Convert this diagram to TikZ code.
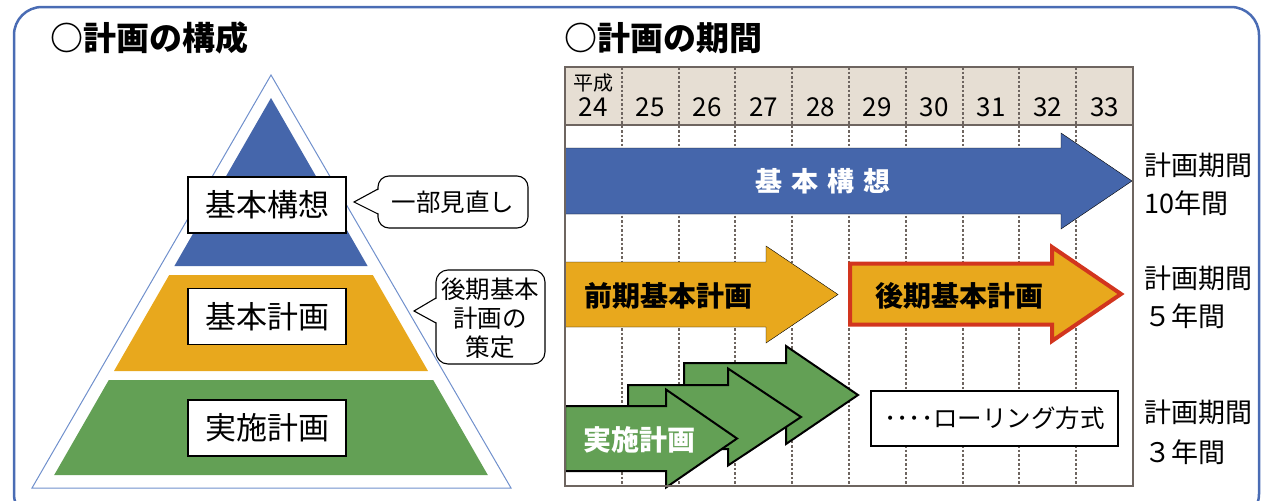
\documentclass[tikz,border=0pt]{standalone}
\usepackage{fontspec}
\setmainfont{Noto Sans CJK JP}
\definecolor{pblue}{HTML}{4566AB}
\definecolor{porange}{HTML}{E8A81D}
\definecolor{pgreen}{HTML}{63A055}
\definecolor{pred}{HTML}{D2351E}
\definecolor{hdr}{HTML}{E6DED3}
\definecolor{gridc}{HTML}{6E6560}
\definecolor{frameblue}{HTML}{4A6CB4}
\definecolor{trib}{HTML}{7090CC}
\newcommand{\blockarrow}[7]{% style, x0, xh, xt, yc, bh, hh
  \draw[#1] (#2,{#5-#6}) -- (#3,{#5-#6}) -- (#3,{#5-#7}) -- (#4,#5) -- (#3,{#5+#7}) -- (#3,{#5+#6}) -- (#2,{#5+#6}) -- cycle;}
\tikzset{
  title/.style={anchor=west, inner sep=0pt, font=\fontsize{33}{38}\selectfont\bfseries},
  planbox/.style={draw=black, line width=1.8pt, fill=white, minimum width=158pt, minimum height=56pt, inner sep=0pt, font=\fontsize{31}{37}\selectfont},
  calltext/.style={inner sep=0pt, align=center, font=\fontsize{24.5}{29}\selectfont},
  callline/.style={draw=black, line width=1.1pt},
  gridline/.style={gridc, line width=2pt, dash pattern=on 2.5pt off 2pt},
  yr/.style={inner sep=0pt, font=\fontsize{26}{30}\selectfont},
  period/.style={anchor=west, inner sep=0pt, font=\fontsize{27}{30}\selectfont},
  arrowlabel/.style={inner sep=0pt, font=\fontsize{28}{32}\selectfont\bfseries},
  greenarrow/.style={fill=pgreen, draw=black, line width=2pt, line join=miter},
}
\begin{document}
\begin{tikzpicture}[x=1pt, y=-1pt]
\useasboundingbox (0,0) rectangle (1262,501);
% outer frame
\draw[frameblue, line width=2.5pt, rounded corners=28pt] (14,7) rectangle (1259,522);
% titles
\node[title] (t1) at (50,38) {○計画の構成};
\node[title] (t2) at (564,38) {○計画の期間};
% pyramid
\draw[trib, line width=1pt] (271,75) -- (511,488) -- (32,488) -- cycle;
\fill[pblue] (271,98) -- (367.6,266) -- (174.4,266) -- cycle;
\fill[porange] (169.2,275) -- (372.8,275) -- (428,371) -- (114,371) -- cycle;
\fill[pgreen] (108.8,380) -- (433.2,380) -- (487.8,475) -- (54.2,475) -- cycle;
\node[planbox] (kk) at (267,205) {基本構想};
\node[planbox] (kp) at (267,316.5) {基本計画};
\node[planbox] (jp) at (267,428) {実施計画};
% callout 1
\draw[callline, fill=white, rounded corners=11pt] (378,176) rectangle (528,228);
\fill[white] (380,189) -- (354,202) -- (380,214) -- cycle;
\draw[callline] (378,189) -- (354,202) -- (378,214);
\node[calltext] (c1) at (453,202) {一部見直し};
% callout 2
\draw[callline, fill=white, rounded corners=12pt] (436,270) rectangle (545,364);
\fill[white] (438,298) -- (414,311) -- (438,323) -- cycle;
\draw[callline] (436,298) -- (414,311) -- (436,323);
\node[calltext] (c2) at (490,318) {後期基本\\計画の\\策定};
% chart
\fill[hdr] (565,67) rectangle (1133,125);
\foreach \i in {1,...,9} \draw[gridline] ({565+56.8*\i},67) -- ({565+56.8*\i},486);
\node[inner sep=0pt, font=\fontsize{20}{24}\selectfont] (hs) at (593,83) {平成};
\foreach \n [count=\i from 0] in {24,25,26,27,28,29,30,31,32,33}
  \node[yr] (y\n) at ({565+56.8*\i+28.4},107) {\n};
% arrows
\blockarrow{fill=pblue}{565}{1061}{1132}{181}{33}{48}
\node[arrowlabel, text=white, font=\fontsize{27}{32}\selectfont\bfseries] (a1) at (823,181) {基\hspace{9pt}本\hspace{9pt}構\hspace{9pt}想};
\blockarrow{fill=porange}{565}{766}{838}{294.5}{32.5}{48.5}
\node[arrowlabel] (a2) at (668,296) {前期基本計画};
\blockarrow{fill=porange, draw=pred, line width=4pt, line join=miter}{850}{1052}{1121}{294}{30.5}{47}
\node[arrowlabel] (a3) at (959,296) {後期基本計画};
\blockarrow{greenarrow}{684}{786}{858}{395}{32}{49}
\blockarrow{greenarrow}{628}{728}{801}{417}{32}{48.5}
\blockarrow{greenarrow}{565}{666}{737}{438.5}{32.5}{49}
\node[arrowlabel, text=white] (a4) at (639,440) {実施計画};
% chart frame
\draw[gridc, line width=2pt] (565,125) -- (1133,125);
\draw[gridc, line width=2pt] (565,67) rectangle (1133,486);
% rolling box
\node[draw=black, line width=1.1pt, fill=white, minimum width=247pt, minimum height=55pt, inner sep=0pt, font=\fontsize{24.5}{28}\selectfont] (roll) at (994.5,418.5) {････ローリング方式};
% period labels
\node[period] (p1a) at (1144,165) {計画期間};
\node[period] (p1b) at (1144,203) {10年間};
\node[period] (p2a) at (1144,278) {計画期間};
\node[period] (p2b) at (1144,316) {５年間};
\node[period] (p3a) at (1144,412) {計画期間};
\node[period] (p3b) at (1144,452) {３年間};
\end{tikzpicture}
\end{document}
